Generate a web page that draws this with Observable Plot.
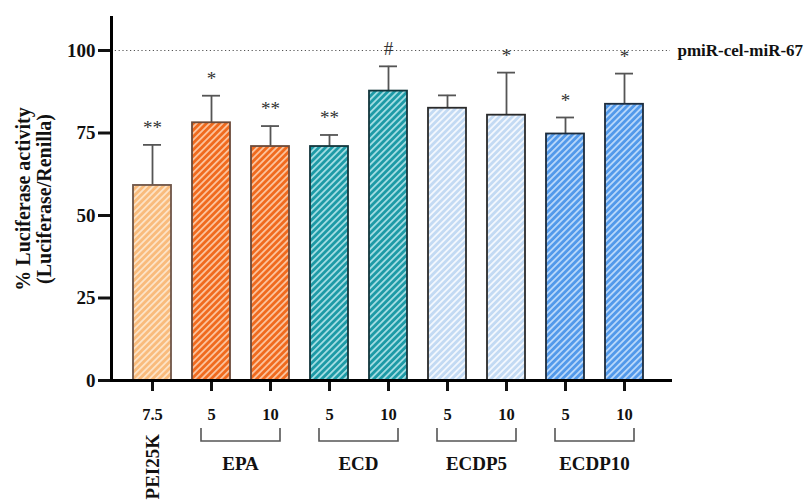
<!DOCTYPE html>
<html><head><meta charset="utf-8">
<script src="https://cdn.jsdelivr.net/npm/d3@7"></script>
<script src="https://cdn.jsdelivr.net/npm/@observablehq/plot@0.6"></script>
<style>
body{margin:0;background:#fff}
svg{display:block}
</style>
</head><body><div id="chart"></div>
<script>
// ---- data ----
const groups = ["PEI25K","EPA","EPA","ECD","ECD","ECDP5","ECDP5","ECDP10","ECDP10"];
const doses = ["7.5","5","10","5","10","5","10","5","10"];
const means = [59.1, 78.1, 70.9, 70.9, 87.7, 82.5, 80.4, 74.7, 83.7];
const errTops = [71.4, 86.3, 77.1, 74.4, 95.2, 86.4, 93.3, 79.7, 93.0];
const signif = ["**","*","**","**","#","","*","*","*"];
const groupNames = ["PEI25K","EPA","ECD","ECDP5","ECDP10"];
const groupFill = ["#f9bb7c","#f06a1e","#1d9aa6","#c3daf3","#5299ea"];
const groupStripe = ["#fde3c6","#fcc39c","#a3dde3","#f3f8fe","#b9d8fa"];
const groupStroke = ["#6e5548","#6b4a3a","#13363c","#2a2a2a","#1d2c3c"];
const yTicks = [0, 25, 50, 75, 100];
const refLine = [{value: 100, label: "pmiR-cel-miR-67"}];
const yTitle = "% Luciferase activity\n(Luciferase/Renilla)";

const data = groups.map((g, i) => ({
  key: g + "|" + i, group: g, gi: groupNames.indexOf(g), dose: doses[i],
  mean: means[i], err: errTops[i], sig: signif[i]
}));
const doseOf = Object.fromEntries(data.map(d => [d.key, d.dose]));

const FONT = "'Liberation Serif', 'Times New Roman', serif";

function groupAnnotations(index, scales) {
  const x = scales.x, bw = x.bandwidth(), y0 = scales.y(0);
  const g = d3.create("svg:g")
    .attr("font-family", FONT).attr("font-weight", "bold").attr("font-size", 19).attr("fill", "#111");
  groupNames.forEach(name => {
    const keys = data.filter(d => d.group === name).map(d => d.key);
    const c0 = x(keys[0]) + bw / 2, c1 = x(keys[keys.length - 1]) + bw / 2;
    if (keys.length > 1) {
      g.append("path")
        .attr("d", `M${c0 - 10},${y0 + 48}V${y0 + 61}H${c1 + 10}V${y0 + 48}`)
        .attr("fill", "none").attr("stroke", "#555").attr("stroke-width", 1.6);
      g.append("text").attr("x", (c0 + c1) / 2).attr("y", y0 + 90)
        .attr("text-anchor", "middle").text(name);
    } else {
      g.append("text")
        .attr("transform", `translate(${c0},${y0 + 54}) rotate(-90)`)
        .attr("text-anchor", "end").attr("dy", "0.35em").text(name);
    }
  });
  return g.node();
}

const barMarks = groupNames.map((name, gi) =>
  Plot.barY(data.filter(d => d.group === name), {
    x: "key", y: "mean", fill: `url(#pat${gi})`, stroke: groupStroke[gi], strokeWidth: 1.8
  })
);

const chart = Plot.plot({
  width: 808, height: 501,
  marginLeft: 111, marginRight: 138, marginTop: 17, marginBottom: 121,
  style: {fontFamily: FONT, background: "#fff", color: "#111"},
  x: {domain: data.map(d => d.key), paddingInner: 0.35, paddingOuter: 0.35, align: 0.45},
  y: {domain: [0, 110]},
  marks: [
    Plot.ruleY(refLine, {y: "value", stroke: "#555", strokeWidth: 1.2, strokeDasharray: "1.2,2.6"}),
    Plot.text(refLine, {y: "value", text: "label", frameAnchor: "right", textAnchor: "start", dx: 7,
      fontWeight: "bold", fontSize: 17, fill: "#111"}),
    Plot.ruleX(data, {x: "key", y1: "mean", y2: "err", stroke: "#555", strokeWidth: 1.8}),
    Plot.tickY(data, {x: "key", y: "err", stroke: "#555", strokeWidth: 1.8, insetLeft: 10, insetRight: 10}),
    ...barMarks,
    Plot.text(data.filter(d => d.sig), {x: "key", y: "err", text: "sig", dy: -17,
      fontSize: 19, fill: "#333"}),
    Plot.axisY({ticks: yTicks, tickSize: 13, tickPadding: 3, strokeWidth: 3, fontSize: 19,
      fontWeight: "bold", label: null}),
    Plot.axisX({tickFormat: k => doseOf[k], tickSize: 11, tickPadding: 17, strokeWidth: 3,
      fontSize: 16.5, fontWeight: "bold", label: null}),
    Plot.frame({anchor: "left", strokeWidth: 3, stroke: "#000"}),
    Plot.frame({anchor: "bottom", strokeWidth: 3, stroke: "#000"}),
    Plot.text([yTitle], {frameAnchor: "left", dx: -78, rotate: -90, textAnchor: "middle",
      lineAnchor: "middle", fontSize: 20, fontWeight: "bold", lineHeight: 1.05, fill: "#111"}),
    groupAnnotations
  ]
});

// stripe patterns
const defs = d3.select(chart).insert("defs", ":first-child");
groupNames.forEach((name, gi) => {
  const p = defs.append("pattern").attr("id", `pat${gi}`)
    .attr("patternUnits", "userSpaceOnUse").attr("width", 4.6).attr("height", 4.6)
    .attr("patternTransform", "rotate(45)");
  p.append("rect").attr("width", 4.6).attr("height", 4.6).attr("fill", groupFill[gi]);
  p.append("rect").attr("width", 1.8).attr("height", 4.6).attr("fill", groupStripe[gi]);
});

document.getElementById("chart").append(chart);
</script>
</body></html>
